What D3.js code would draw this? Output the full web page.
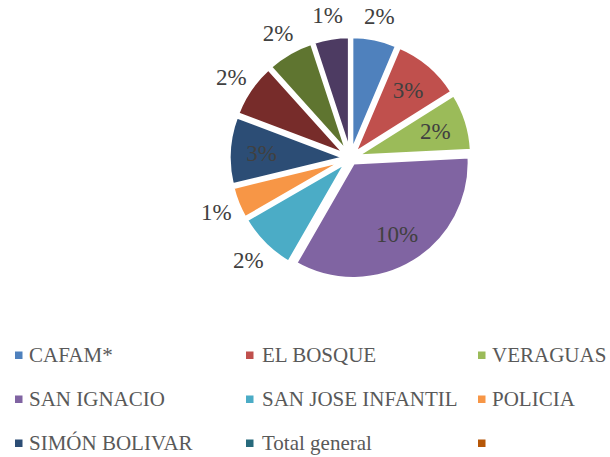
<!DOCTYPE html>
<html>
<head>
<meta charset="utf-8">
<script src="https://cdn.jsdelivr.net/npm/d3@7/dist/d3.min.js"></script>
<style>
  html, body { margin: 0; padding: 0; background: #fff; }
  svg { display: block; }
</style>
</head>
<body>
<svg id="chart" width="610" height="457"></svg>
<script>
// ---- data ----
const sliceNames = ["CAFAM*", "EL BOSQUE", "VERAGUAS", "SAN IGNACIO", "SAN JOSE INFANTIL", "POLICIA", "SIMÓN BOLIVAR", "", "", ""];
const sliceValues = [1.87, 2.83, 2.39, 10.0, 2.45, 1.33, 2.80, 2.22, 1.94, 1.48];
const sliceColors = ["#4F81BD", "#C0504D", "#9BBB59", "#8064A2", "#4BACC6", "#F79646", "#2C4D75", "#772C2A", "#5F7530", "#4D3B62"];
const labelPlacement = ["out", "in", "in", "in", "out", "out", "in", "out", "out", "out"];

const legendLabels = ["CAFAM*", "EL BOSQUE", "VERAGUAS", "SAN IGNACIO", "SAN JOSE INFANTIL", "POLICIA", "SIMÓN BOLIVAR", "Total general", ""];
const legendColors = ["#4F81BD", "#C0504D", "#9BBB59", "#8064A2", "#4BACC6", "#F79646", "#2C4D75", "#276A7C", "#B65708"];

const FONT = '"Liberation Serif"';

// ---- layout ----
const svg = d3.select("#chart");
const cx = 350.5, cy = 158, r = 116, explode = 5.5;

const data = sliceValues.map((v, i) => ({ name: sliceNames[i], value: v, color: sliceColors[i], place: labelPlacement[i] }));
const pie = d3.pie().value(d => d.value).sort(null);
const arcs = pie(data);
const arc = d3.arc().innerRadius(0).outerRadius(r);
const inArc = d3.arc().innerRadius(0.72 * r).outerRadius(0.72 * r);
const outArc = d3.arc().innerRadius(r + 23).outerRadius(r + 23);

const g = svg.append("g").attr("transform", `translate(${cx},${cy})`);

function offset(a) {
  const m = (a.startAngle + a.endAngle) / 2;
  return [Math.sin(m) * explode, -Math.cos(m) * explode];
}

g.selectAll("path.slice").data(arcs).enter().append("path")
  .attr("class", "slice")
  .attr("d", arc)
  .attr("fill", d => d.data.color)
  .attr("stroke", "#fff")
  .attr("stroke-width", 3.5)
  .attr("stroke-linejoin", "round")
  .attr("transform", d => { const o = offset(d); return `translate(${o[0]},${o[1]})`; });

g.selectAll("text.lbl").data(arcs).enter().append("text")
  .attr("class", "lbl")
  .attr("transform", d => {
    const o = offset(d);
    const c = (d.data.place === "in" ? inArc : outArc).centroid(d);
    return `translate(${c[0] + o[0]},${c[1] + o[1]})`;
  })
  .attr("text-anchor", "middle")
  .attr("dy", "0.35em")
  .style("font-family", FONT)
  .style("font-size", "23px")
  .attr("fill", "#404040")
  .text(d => Math.round(d.data.value) + "%");

// ---- legend ----
const colX = [15, 246, 478];
const textX = [29, 262, 492];
const rowY = [362, 406, 450];

const lg = svg.append("g");
legendLabels.forEach((lab, i) => {
  const col = i % 3, row = Math.floor(i / 3);
  lg.append("rect")
    .attr("x", colX[col]).attr("y", rowY[row] - 10.5)
    .attr("width", 7.5).attr("height", 7.5)
    .attr("fill", legendColors[i]);
  lg.append("text")
    .attr("x", textX[col]).attr("y", rowY[row])
    .style("font-family", FONT)
    .style("font-size", "21px")
    .attr("fill", "#595959")
    .text(lab);
});
</script>
</body>
</html>
